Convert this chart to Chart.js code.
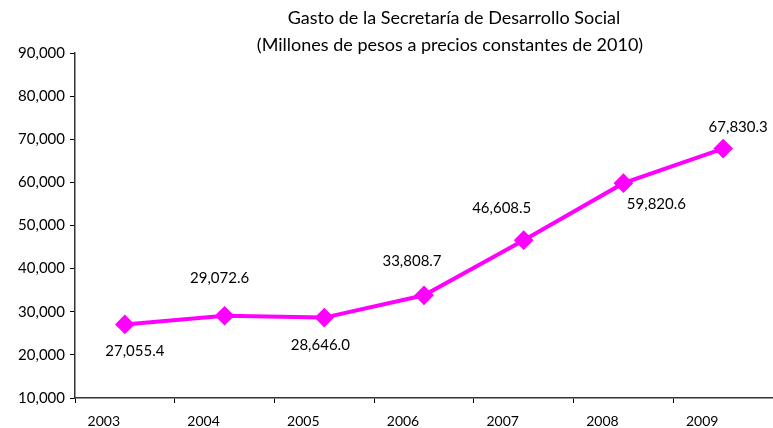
<!DOCTYPE html>
<html>
<head>
<meta charset="utf-8">
<script src="https://cdn.jsdelivr.net/npm/chart.js@4.4.0/dist/chart.umd.min.js"></script>
<style>
html,body{margin:0;padding:0;background:#fff;overflow:hidden;width:773px;height:428px;}
#wrap{width:773px;height:428px;position:relative;overflow:hidden;}
canvas{display:block;}
</style>
</head>
<body>
<div id="wrap"><canvas id="c"></canvas></div>
<script>
const categories = ['2003','2004','2005','2006','2007','2008','2009'];
const values = [27055.4, 29072.6, 28646.0, 33808.7, 46608.5, 59820.6, 67830.3];
const titleLines = ['Gasto de la Secretaría de Desarrollo Social', '(Millones de pesos a precios constantes de 2010)'];
const yMin = 10000, yMax = 90000, yStep = 10000;

// label placement offsets (styling)
const labelDx = [10, -5, -4, -12, -22, 33, 15];
const labelDy = [27, -38, 28, -34, -32, 21, -21];

const FONT = 'Lato, "Open Sans", sans-serif';
const fmt1 = v => v.toLocaleString('en-US', {minimumFractionDigits:1, maximumFractionDigits:1});
const fmt0 = v => v.toLocaleString('en-US', {maximumFractionDigits:0});

const extras = {
  id: 'extras',
  afterDraw(chart) {
    const ctx = chart.ctx;
    ctx.save();
    ctx.fillStyle = '#000';
    ctx.textAlign = 'center';
    ctx.textBaseline = 'middle';
    ctx.font = '18px ' + FONT;
    ctx.fillText(titleLines[0], 454, 18);
    ctx.fillText(titleLines[1], 450, 45);
    ctx.font = '15px ' + FONT;
    const meta = chart.getDatasetMeta(0);
    meta.data.forEach((pt, i) => {
      ctx.fillText(fmt1(values[i]), pt.x + labelDx[i], pt.y + labelDy[i]);
    });
    ctx.restore();
  }
};

new Chart(document.getElementById('c'), {
  type: 'line',
  data: {
    labels: categories,
    datasets: [{
      data: values,
      borderColor: '#FF00FF',
      backgroundColor: '#FF00FF',
      borderWidth: 4,
      tension: 0,
      clip: false,
      pointStyle: 'rectRot',
      pointRadius: 7,
      pointHoverRadius: 7,
      pointBorderColor: '#FF00FF',
      pointBackgroundColor: '#FF00FF'
    }]
  },
  options: {
    responsive: true,
    maintainAspectRatio: false,
    animation: false,
    layout: {autoPadding: false, padding: {top: 53, left: 0, right: -2, bottom: 0}},
    plugins: {legend: {display: false}, tooltip: {enabled: false}, title: {display: false}},
    scales: {
      x: {
        type: 'category',
        offset: true,
        grid: {offset: true, drawOnChartArea: false, drawTicks: true, tickLength: 5, color: '#000', lineWidth: 1},
        border: {display: true, color: '#333', width: 1.5},
        ticks: {color: '#000', font: {family: FONT, size: 14}, labelOffset: -21, padding: 10, maxRotation: 0, autoSkip: false},
        afterFit(s) { s.height = 30; s.paddingLeft = 0; s.paddingRight = 0; }
      },
      y: {
        min: yMin, max: yMax,
        grid: {drawOnChartArea: false, drawTicks: true, tickLength: 5, color: '#000', lineWidth: 1},
        border: {display: true, color: '#333', width: 1.5},
        ticks: {stepSize: yStep, color: '#000', font: {family: FONT, size: 15}, padding: 5, callback: v => fmt0(v)},
        afterFit(s) { s.width = 75; }
      }
    }
  },
  plugins: [extras]
});
</script>
</body>
</html>
